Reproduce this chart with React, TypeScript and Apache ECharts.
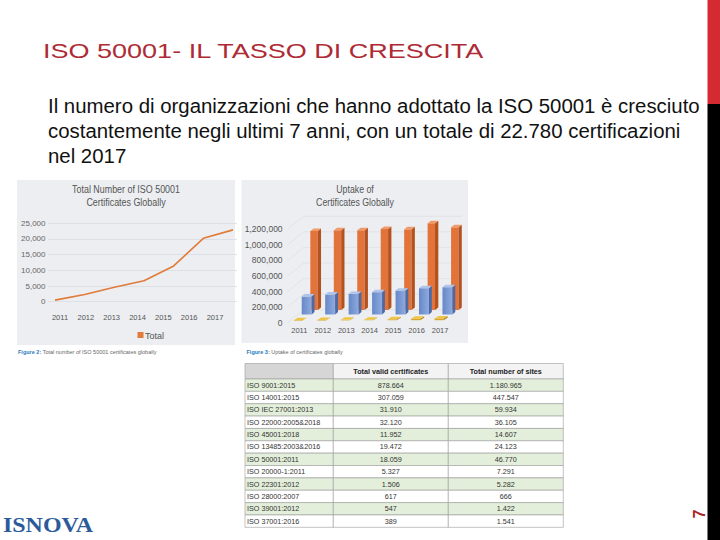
import React, { useEffect, useRef } from "react";
import * as echarts from "echarts";

// ---- Data ----
const lineYears = ["2011", "2012", "2013", "2014", "2015", "2016", "2017"];
const lineTotals = [500, 2300, 4600, 6700, 11400, 20200, 22900];
const leftTickMax = 25000;
const leftTickStep = 5000;

const uptakeYears = ["2011", "2012", "2013", "2014", "2015", "2016", "2017"];
const uptakeOrange = [1015000, 1024000, 1024000, 1040000, 1036000, 1113000, 1062000];
const uptakeBlue = [231000, 257000, 266000, 287000, 308000, 338000, 351000];
const uptakeYellow = [500, 2300, 4600, 6700, 11400, 20200, 22900];
const rightTickMax = 1200000;
const rightTickStep = 200000;

const tableHeaders = ["", "Total valid certificates", "Total number of sites"];
const tableStandards = [
  "ISO 9001:2015",
  "ISO 14001:2015",
  "ISO IEC 27001:2013",
  "ISO 22000:2005&2018",
  "ISO 45001:2018",
  "ISO 13485:2003&2016",
  "ISO 50001:2011",
  "ISO 20000-1:2011",
  "ISO 22301:2012",
  "ISO 28000:2007",
  "ISO 39001:2012",
  "ISO 37001:2016",
];
const tableCertificates = ["878.664", "307.059", "31.910", "32.120", "11.952", "19.472", "18.059", "5.327", "1.506", "617", "547", "389"];
const tableSites = ["1.180.965", "447.547", "59.934", "36.105", "14.607", "24.123", "46.770", "7.291", "5.282", "666", "1.422", "1.541"];

const slideTitle = "ISO 50001- IL TASSO DI CRESCITA";
const bodyLines = [
  "Il numero di organizzazioni che hanno adottato la ISO 50001 è cresciuto",
  "costantemente negli ultimi 7 anni, con un totale di 22.780 certificazioni",
  "nel 2017",
];
const leftTitle = ["Total Number of ISO 50001", "Certificates Globally"];
const rightTitle = ["Uptake of", "Certificates Globally"];
const leftCaption = ["Figure 2:", " Total number of ISO 50001 certificates globally"];
const rightCaption = ["Figure 3:", " Uptake of certificates globally"];
const legendLabel = "Total";
const logoText = "ISNOVA";
const pageNumber = "7";

const SANS = "'Liberation Sans', Arial, sans-serif";
const SERIF = "'Liberation Serif', 'Times New Roman', serif";

function measure(text: string, size: number, family: string, weight = "normal") {
  const c = document.createElement("canvas").getContext("2d") as CanvasRenderingContext2D;
  c.font = `${weight} ${size}px ${family}`;
  return c.measureText(text).width;
}

const fmt = (v: number) => v.toLocaleString("en-US");

export default function App() {
  const ref = useRef<HTMLDivElement>(null);

  useEffect(() => {
    if (!ref.current) return;
    const chart = echarts.init(ref.current, null, { renderer: "svg" });

    const els: any[] = [];

    // panels
    els.push({ type: "rect", z: -10, shape: { x: 17, y: 180, width: 218, height: 165 }, style: { fill: "#eceef1" } });
    els.push({ type: "rect", z: -10, shape: { x: 241.5, y: 180, width: 226.5, height: 163 }, style: { fill: "#eceef1" } });

    // slide title
    const tSize = 21;
    const tScale = 442 / measure(slideTitle, tSize, SANS);
    els.push({
      type: "text", x: 43, y: 50.5, scaleX: tScale,
      style: { text: slideTitle, fontSize: tSize, fontFamily: SANS, fill: "#ae2b35", align: "left", verticalAlign: "middle" },
    });

    // body text
    const bSize = 20;
    const bScale = 652 / measure(bodyLines[0], bSize, SANS);
    const bodyY = [106, 131, 156];
    bodyLines.forEach((l, i) => {
      els.push({
        type: "text", x: 48, y: bodyY[i], scaleX: bScale,
        style: { text: l, fontSize: bSize, fontFamily: SANS, fill: "#111", align: "left", verticalAlign: "middle" },
      });
    });

    // chart titles
    const ctSize = 11;
    const ltScale = 108 / measure(leftTitle[0], ctSize, SANS);
    leftTitle.forEach((l, i) => {
      els.push({
        type: "text", x: 126, y: 189 + i * 12.7, scaleX: ltScale,
        style: { text: l, fontSize: ctSize, fontFamily: SANS, fill: "#555", align: "center", verticalAlign: "middle" },
      });
    });
    const rtScale = 78 / measure(rightTitle[1], ctSize, SANS);
    rightTitle.forEach((l, i) => {
      els.push({
        type: "text", x: 355, y: 189 + i * 12.7, scaleX: rtScale,
        style: { text: l, fontSize: ctSize, fontFamily: SANS, fill: "#555", align: "center", verticalAlign: "middle" },
      });
    });

    // legend
    els.push({ type: "rect", shape: { x: 137.5, y: 332, width: 6, height: 6 }, style: { fill: "#e07b39" } });
    els.push({
      type: "text", x: 145, y: 335.5,
      style: { text: legendLabel, fontSize: 9, fontFamily: SANS, fill: "#555", align: "left", verticalAlign: "middle" },
    });

    // captions
    const capSize = 5.5;
    [[leftCaption, 18], [rightCaption, 246.5]].forEach(([cap, x]: any) => {
      const w0 = measure(cap[0], capSize, SANS, "bold");
      els.push({
        type: "text", x, y: 351.5,
        style: { text: cap[0], fontSize: capSize, fontWeight: "bold", fontFamily: SANS, fill: "#2b7bbd", align: "left", verticalAlign: "middle" },
      });
      els.push({
        type: "text", x: x + w0, y: 351.5,
        style: { text: cap[1], fontSize: capSize, fontFamily: SANS, fill: "#666", align: "left", verticalAlign: "middle" },
      });
    });

    // table
    const colX = [245, 333.3, 448.3, 563.3];
    const headTop = 363.5;
    const headH = 15.5;
    const rowH = 12.36;
    const tf = 7.2;
    for (let c = 0; c < 3; c++) {
      els.push({
        type: "rect",
        shape: { x: colX[c], y: headTop, width: colX[c + 1] - colX[c], height: headH },
        style: { fill: c === 0 ? "#d6d6d6" : "#f3f3f3", stroke: "#9a9a9a", lineWidth: 0.6 },
      });
      if (tableHeaders[c]) {
        els.push({
          type: "text", x: (colX[c] + colX[c + 1]) / 2, y: headTop + headH / 2,
          style: { text: tableHeaders[c], fontSize: tf, fontWeight: "bold", fontFamily: SANS, fill: "#222", align: "center", verticalAlign: "middle" },
        });
      }
    }
    tableStandards.forEach((s, r) => {
      const y = headTop + headH + r * rowH;
      const fill = r % 2 === 0 ? "#e3efda" : "#ffffff";
      const cells = [s, tableCertificates[r], tableSites[r]];
      for (let c = 0; c < 3; c++) {
        els.push({
          type: "rect",
          shape: { x: colX[c], y, width: colX[c + 1] - colX[c], height: rowH },
          style: { fill, stroke: "#9a9a9a", lineWidth: 0.6 },
        });
        els.push({
          type: "text",
          x: c === 0 ? colX[0] + 2 : (colX[c] + colX[c + 1]) / 2,
          y: y + rowH / 2,
          style: { text: cells[c], fontSize: tf, fontFamily: SANS, fill: "#333", align: c === 0 ? "left" : "center", verticalAlign: "middle" },
        });
      }
    });

    // logo
    const lSize = 21;
    const lScale = 90 / measure(logoText, lSize, SERIF, "bold");
    els.push({
      type: "text", x: 3, y: 525, scaleX: lScale,
      style: { text: logoText, fontSize: lSize, fontWeight: "bold", fontFamily: SERIF, fill: "#2c5b9b", align: "left", verticalAlign: "middle" },
    });

    // side bar
    els.push({ type: "rect", shape: { x: 707.5, y: 0, width: 12.5, height: 104 }, style: { fill: "#d42a31" } });
    els.push({ type: "rect", shape: { x: 707.5, y: 104, width: 12.5, height: 436 }, style: { fill: "#000" } });
    els.push({
      type: "text", x: 699, y: 514, rotation: Math.PI / 2,
      style: { text: pageNumber, fontSize: 16, fontWeight: "bold", fontFamily: SANS, fill: "#a8222c", align: "center", verticalAlign: "middle" },
    });

    const gTopL = 223.3, gHL = 78.4;
    const gTopR = 229.3, gHR = 93.4;

    const barRender = (dx: number, dy: number, w: number, d: number, dd: number, front: any, side: string, topc: string) =>
      (params: any, api: any) => {
        const idx = api.value(0);
        const v = api.value(1);
        const base = api.coord([idx, 0]);
        const top = api.coord([idx, v]);
        const cx = base[0] + dx;
        const yb = base[1] + dy;
        const yt = top[1] + dy;
        const x0 = cx - w / 2;
        const x1 = cx + w / 2;
        return {
          type: "group",
          children: [
            { type: "rect", shape: { x: x0, y: yt, width: w, height: Math.max(yb - yt, 0.5) }, style: { fill: front } },
            { type: "polygon", shape: { points: [[x1, yt], [x1 + d, yt - dd], [x1 + d, yb - dd], [x1, yb]] }, style: { fill: side } },
            { type: "polygon", shape: { points: [[x0, yt], [x0 + d, yt - dd], [x1 + d, yt - dd], [x1, yt]] }, style: { fill: topc } },
          ],
        };
      };

    const wallTicks: number[] = [];
    for (let v = 0; v <= rightTickMax; v += rightTickStep) wallTicks.push(v);

    const option: any = {
      animation: false,
      grid: [
        { left: 48, top: gTopL, width: 189, height: gHL },
        { left: 47.1, top: gTopL, width: 180.8, height: gHL },
        { left: 55, top: gTopL, width: 178, height: gHL },
        { left: 287.6, top: gTopR, width: 164.2, height: gHR },
      ],
      xAxis: [
        { gridIndex: 0, type: "category", data: lineYears, show: false },
        {
          gridIndex: 1, type: "category", data: lineYears,
          axisLine: { show: false }, axisTick: { show: false },
          axisLabel: { fontSize: 7.5, color: "#555", margin: 12, fontFamily: SANS },
        },
        { gridIndex: 2, type: "category", data: lineYears, boundaryGap: false, show: false },
        {
          gridIndex: 3, type: "category", data: uptakeYears,
          axisLine: { show: false }, axisTick: { show: false },
          axisLabel: { fontSize: 7.5, color: "#555", margin: 4, fontFamily: SANS },
        },
      ],
      yAxis: [
        {
          gridIndex: 0, type: "value", min: 0, max: leftTickMax, interval: leftTickStep,
          axisLine: { show: false }, axisTick: { show: false },
          axisLabel: { fontSize: 8, color: "#666", margin: 2.5, formatter: fmt, fontFamily: SANS },
          splitLine: { lineStyle: { color: "#d9dce1", width: 0.8 } },
        },
        { gridIndex: 1, type: "value", min: 0, max: leftTickMax, show: false },
        { gridIndex: 2, type: "value", min: 0, max: leftTickMax, show: false },
        {
          gridIndex: 3, type: "value", min: 0, max: rightTickMax, interval: rightTickStep,
          axisLine: { show: false }, axisTick: { show: false },
          axisLabel: { fontSize: 8.5, color: "#555", margin: 5, formatter: fmt, fontFamily: SANS },
          splitLine: { show: false },
        },
      ],
      series: [
        {
          type: "line", xAxisIndex: 2, yAxisIndex: 2, data: lineTotals,
          symbol: "none", lineStyle: { color: "#e07b39", width: 1.6 },
        },
        {
          type: "custom", xAxisIndex: 3, yAxisIndex: 3, clip: false,
          data: wallTicks.map((v) => [0, v]),
          renderItem: (params: any, api: any) => {
            const p = api.coord([0, api.value(1)]);
            const bw = api.size([1, 0])[0];
            const gl = p[0] - bw / 2;
            const gr = gl + bw * uptakeYears.length + 10;
            return {
              type: "polyline",
              shape: { points: [[gl, p[1]], [gl + 16, p[1] - 13], [gr, p[1] - 13]] },
              style: { stroke: "#dcdfe4", lineWidth: 0.7, fill: "none" },
            };
          },
        },
        {
          type: "custom", xAxisIndex: 3, yAxisIndex: 3, clip: false,
          data: uptakeOrange.map((v, i) => [i, v]),
          renderItem: barRender(14.7, -12.7, 7.4, 3.3, 2.6, "#e2733a", "#b4521f", "#f09a68"),
        },
        {
          type: "custom", xAxisIndex: 3, yAxisIndex: 3, clip: false,
          data: uptakeBlue.map((v, i) => [i, v]),
          renderItem: barRender(7.4, -8.2, 10, 2.8, 2.4,
            new echarts.graphic.LinearGradient(0, 0, 1, 0, [
              { offset: 0, color: "#6688c8" },
              { offset: 1, color: "#8eabe0" },
            ]),
            "#4b6aa6", "#aec4ea"),
        },
        {
          type: "custom", xAxisIndex: 3, yAxisIndex: 3, clip: false,
          data: uptakeYellow.map((v, i) => [i, v]),
          renderItem: barRender(-1, -2.5, 9, 4, 2.5, "#d9a52a", "#b9861c", "#efc445"),
        },
      ],
      graphic: { elements: els },
    };

    chart.setOption(option);
    return () => chart.dispose();
  }, []);

  return (
    <div
      ref={ref}
      style={{ position: "fixed", left: 0, top: 0, width: 720, height: 540, background: "#fff" }}
    />
  );
}
